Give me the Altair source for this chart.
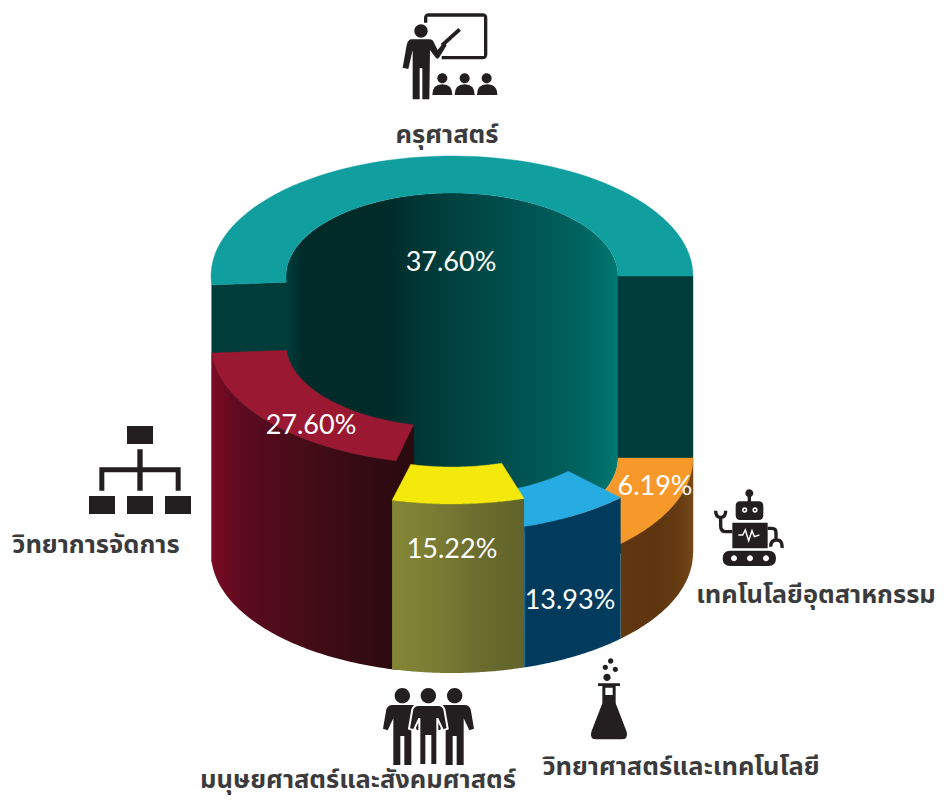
import math
import altair as alt
import pandas as pd

# ---- content ----
categories = ["ครุศาสตร์", "วิทยาการจัดการ", "มนุษยศาสตร์และสังคมศาสตร์", "วิทยาศาสตร์และเทคโนโลยี", "เทคโนโลยีอุตสาหกรรม"]
shares = ["37.60%", "27.60%", "15.22%", "13.93%", "6.19%"]
share_x = [451, 311, 452, 570, 655]
share_y = [263, 426, 550, 601, 487]
label_x = [447, 96, 358, 681, 816]
label_y = [135, 545, 780, 767, 595]

# stepped ring: top level of every sector and the sector's angles (degrees, clockwise on screen)
levels = [276, 344, 384, 412, 458]
angle_from = [175.7, 103.4, 72.6, 45.6, 0]
angle_to = [360, 175.7, 104.4, 72.6, 45.6]
top_colors = ["#109e9f", "#9b1832", "#f4e90a", "#27abe3", "#f7992a"]
wall_stops = [
    None,
    ["#7a0b24", "#5c0a20", "#450c17", "#2c0a10"],
    ["#848636", "#7a7c33", "#6b6c2e", "#62632a"],
    ["#0c6c99", "#003a5c", "#003a5c", "#013c5e"],
    ["#60370f", "#5e350f", "#663b12", "#744818"],
]
wall_offsets = [None, [0, 0.17, 0.5, 1], [0, 0.33, 0.66, 1], [0, 0.02, 0.5, 1], [0, 0.5, 0.8, 1]]
hole_stops = ["#003f3d", "#002b29", "#002b29", "#003c3a", "#005250", "#00625e", "#007871"]
hole_offsets = [0, 0.05, 0.3, 0.45, 0.7, 0.88, 1]
face_colors = ["#003c3a", "#2a0a0f"]
floor_level = 553
cx = 452
outer_rx, outer_ry = 241, 120
inner_rx, inner_ry = 166, 83

ink = "#231f20"
label_color = "#3b3b3d"


def circle(x, y, r, hole=False):
    sweep = 0 if hole else 1
    return f"M{x-r} {y}A{r} {r} 0 1 {sweep} {x+r} {y}A{r} {r} 0 1 {sweep} {x-r} {y}Z"


def rrect(x0, y0, x1, y1, r):
    return (f"M{x0+r} {y0}L{x1-r} {y0}Q{x1} {y0} {x1} {y0+r}L{x1} {y1-r}Q{x1} {y1} {x1-r} {y1}"
            f"L{x0+r} {y1}Q{x0} {y1} {x0} {y1-r}L{x0} {y0+r}Q{x0} {y0} {x0+r} {y0}Z")


def person(c):
    return (f"M{c-30} 165L{c+30} 165Q{c+43} 165 {c+48} 178L{c+58} 236L{c+44} 241L{c+27} 205L{c+27} 345"
            f"L{c+6} 345L{c+6} 258L{c-6} 258L{c-6} 345L{c-27} 345L{c-27} 205L{c-44} 241L{c-58} 236"
            f"L{c-48} 178Q{c-43} 165 {c-30} 165Z")


# icon outlines, in units of a third of a pixel from the icon's anchor
teacher = (
    "M102 55Q102 40 117 40L277 40Q292 40 292 55L292 163Q292 178 277 178L155 178L155 168L282 168L282 50L112 50L112 68L102 68Z"
    "M205 84L213 92L160 140L152 132Z" + circle(93, 93, 20)
    + "M65 118L118 118Q128 118 132 128L143 150L160 128L170 136L148 172Q142 180 136 172L120 150L118 298L97 298L97 205L89 205L89 298L68 298L68 150L55 207L38 203L50 135Q54 118 65 118Z"
    + circle(157, 235, 15) + "M127 285Q127 253 157 253Q187 253 187 285Z"
    + circle(224, 235, 15) + "M194 285Q194 253 224 253Q254 253 254 285Z"
    + circle(290, 235, 15) + "M261 285Q261 253 291 253Q322 253 322 285Z"
)
org = (
    "M141 33L219 33L219 87L141 87Z M27 243L105 243L105 297L27 297Z M141 243L219 243L219 297L141 297Z M255 243L333 243L333 297L255 297Z"
    "M172 103L188 103L188 157L302 157L302 227L287 227L287 172L188 172L188 227L172 227L172 172L73 172L73 227L58 227L58 157L172 157Z"
)
robot_solid = (
    circle(148, 40, 12) + "M143 50L153 50L153 66L143 66Z" + rrect(107, 64, 190, 120, 14)
    + "M97 128L203 128L203 205L97 205Z" + rrect(68, 212, 228, 258, 23)
)
robot_holes = circle(134, 90, 8) + circle(165, 90, 8) + circle(102, 235, 9) + circle(150, 235, 9) + circle(198, 235, 9)
robot_pupils = circle(134, 90, 3) + circle(165, 90, 3)
robot_arms = "M97 155L78 155Q62 155 62 138L62 112M47 92Q47 112 62 112Q77 112 77 92M203 145L216 145Q228 145 228 158L228 182M212 200Q212 180 230 180Q248 180 246 204"
robot_wave = "M115 165L128 165L136 150L146 182L156 152L163 170L178 165"
flask = (
    "M684 100L750 100L750 108L737 108L737 160L770 245Q775 268 755 268L680 268Q658 268 664 245L697 160L697 108L684 108Z"
    "M706 113L706 135L728 135L728 113Z"
    + circle(722, 33, 8) + circle(706, 52, 8) + circle(736, 58, 8) + circle(711, 82, 11)
)
people_back = circle(97, 137, 23) + circle(254, 137, 23) + person(97) + person(254)
people_front = person(175)
people_head = circle(175, 137, 23)

X = alt.X("x:Q", scale=alt.Scale(domain=[8, 936], nice=False, zero=False), axis=None)
Y = alt.Y("y:Q", scale=alt.Scale(domain=[801, 8], nice=False, zero=False), axis=None)


def arc(rx, ry, cy, a, b, n=70):
    out = []
    for i in range(n + 1):
        t = math.radians(a + (b - a) * i / n)
        out.append((cx + rx * math.cos(t), cy + ry * math.sin(t)))
    return out


def gradient(colors, offsets=None):
    if offsets is None:
        offsets = [i / (len(colors) - 1) for i in range(len(colors))]
    return {"gradient": "linear", "x1": 0, "x2": 1, "y1": 0, "y2": 0,
            "stops": [{"offset": o, "color": c} for o, c in zip(offsets, colors)]}


def polygon(points, fill):
    pts = list(points) + [points[0]]
    df = pd.DataFrame({"x": [p[0] for p in pts], "y": [p[1] for p in pts], "i": range(len(pts))})
    return alt.Chart(df).mark_line(fill=fill, stroke=fill, strokeWidth=0.4, interpolate="linear").encode(
        x=X, y=Y, order=alt.Order("i:Q"))


def top(i):
    cy = levels[i]
    a, b = angle_from[i], angle_to[i]
    return polygon(arc(outer_rx, outer_ry, cy, a, b) + arc(inner_rx, inner_ry, cy, b, a), top_colors[i])


def face(i, angle, fill):
    cy = levels[i]
    t = math.radians(angle)
    c, s = math.cos(t), math.sin(t)
    return polygon([
        (cx + outer_rx * c, cy + outer_ry * s), (cx + inner_rx * c, cy + inner_ry * s),
        (cx + inner_rx * c, floor_level + inner_ry * s), (cx + outer_rx * c, floor_level + outer_ry * s),
    ], fill)


def wall(i):
    cy = levels[i]
    up = arc(outer_rx, outer_ry, cy, angle_from[i], angle_to[i])
    low = arc(outer_rx, outer_ry, floor_level, angle_from[i], angle_to[i])
    df = pd.DataFrame({"x": [p[0] for p in up], "y": [p[1] for p in up], "y2": [p[1] for p in low]})
    df = df.sort_values("x")
    return alt.Chart(df).mark_area(fill=gradient(wall_stops[i], wall_offsets[i]), interpolate="linear").encode(
        x=X, y=Y, y2=alt.Y2("y2:Q"))


def hole():
    up = arc(inner_rx, inner_ry, levels[0], 180, 360)
    df = pd.DataFrame({"x": [p[0] for p in up], "y": [p[1] for p in up],
                       "y2": [levels[4] + (levels[0] - p[1]) for p in up]})
    return alt.Chart(df).mark_area(fill=gradient(hole_stops, hole_offsets), interpolate="linear").encode(
        x=X, y=Y, y2=alt.Y2("y2:Q"))


def icon(shape, ax, ay, fill=ink, stroke=None, stroke_width=0, filled=True):
    df = pd.DataFrame({"x": [ax], "y": [ay]})
    props = dict(shape=shape, size=4 / 9, opacity=1, filled=filled)
    if filled:
        props["fill"] = fill
    if stroke:
        props["stroke"] = stroke
        props["strokeWidth"] = stroke_width
    return alt.Chart(df).mark_point(**props).encode(x=X, y=Y)


layers = [
    hole(),
    face(0, angle_from[0], face_colors[0]),
    face(0, angle_to[0], face_colors[0]),
    top(0),
    face(1, angle_from[1], face_colors[1]),
    wall(1), top(1),
    wall(4), top(4),
    wall(3), top(3),
    wall(2), top(2),
    icon(teacher, 390, 0),
    icon(org, 80, 415),
    icon(robot_solid, 700, 480),
    icon(robot_holes, 700, 480, fill="white"),
    icon(robot_pupils, 700, 480),
    icon(robot_arms, 700, 480, stroke=ink, stroke_width=3.4, filled=False),
    icon(robot_wave, 700, 480, stroke="white", stroke_width=1.5, filled=False),
    icon(flask, 370, 650),
    icon(people_back, 370, 650),
    icon(people_front, 370, 650, stroke="white", stroke_width=2),
    icon(people_head, 370, 650),
]

share_df = pd.DataFrame({"x": share_x, "y": share_y, "t": shares})
layers.append(alt.Chart(share_df).mark_text(font="Lato", fontSize=27, color="white", align="center", baseline="middle").encode(
    x=X, y=Y, text="t:N"))
label_df = pd.DataFrame({"x": label_x, "y": label_y, "t": categories})
layers.append(alt.Chart(label_df).mark_text(font="Noto Sans Thai, Noto Sans, DejaVu Sans", fontSize=25.5, fontWeight="bold",
                                            color=label_color, align="center", baseline="middle").encode(
    x=X, y=Y, text="t:N"))

chart = alt.layer(*layers).properties(
    width=928, height=793,
    padding={"left": 0, "top": 0, "right": 0, "bottom": 0},
    autosize=alt.AutoSizeParams(type="none"),
    background="white",
).configure_view(stroke=None)

chart.save("out.html", embed_options={"renderer": "svg", "actions": False})
